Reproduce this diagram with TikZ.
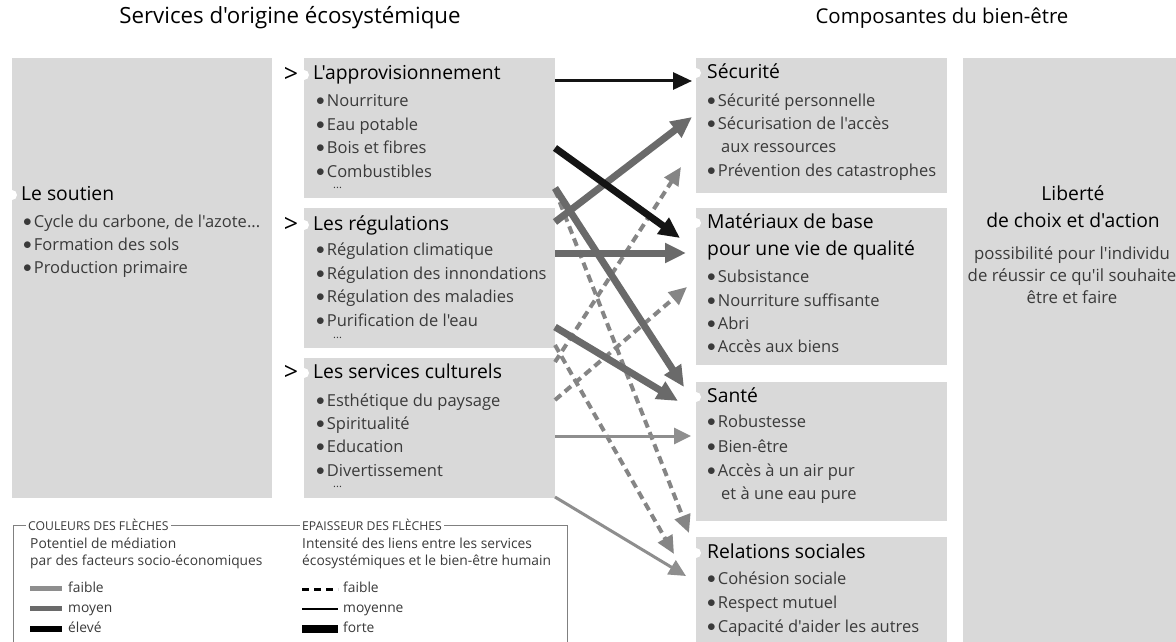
\documentclass[tikz,border=0pt]{standalone}
\usepackage{fontspec}
\setmainfont{Open Sans}[Ligatures=TeXOff]
\usetikzlibrary{arrows.meta}
\definecolor{boxgray}{HTML}{D9D9D9}
\definecolor{itemgray}{HTML}{3A3A3A}
\definecolor{midgray}{HTML}{6A6A6A}
\definecolor{lightgray2}{HTML}{8E8E8E}
\definecolor{dashgray}{HTML}{858585}
\definecolor{framegray}{HTML}{808080}
\newcommand{\bul}{\raisebox{1pt}{$\bullet$}\hspace{2pt}}
\begin{document}
\begin{tikzpicture}[x=1pt,y=-1pt,
  box/.style={fill=boxgray, draw=none, anchor=north west, inner sep=0pt},
  maintitle/.style={text=black, inner sep=0pt},
  head/.style={font=\fontsize{19.3}{22}\selectfont, text=black, anchor=west, inner sep=0pt, text height=14pt, text depth=4pt},
  item/.style={font=\fontsize{16.5}{19}\selectfont, text=itemgray, anchor=west, inner sep=0pt, text height=12pt, text depth=3.5pt},
  dots/.style={font=\fontsize{11}{12}\selectfont, text=itemgray, anchor=west, inner sep=0pt},
  gt/.style={font=\fontsize{25}{26}\selectfont, text=black, anchor=center, inner sep=0pt},
  notch/.style={fill=white},
  legh/.style={font=\fontsize{12.2}{14}\selectfont, text=itemgray, fill=white, anchor=west, inner xsep=2pt, inner ysep=1pt},
  legt/.style={font=\fontsize{13.8}{16}\selectfont, text=itemgray, anchor=west, inner sep=0pt, text height=10pt, text depth=3pt},
  thickarr/.style={line width=7pt, -{Triangle[length=21pt,width=19pt]}},
  thinarr/.style={line width=3pt, -{Triangle[length=17pt,width=16pt]}},
  dasharr/.style={line width=4pt, dash pattern=on 8pt off 5pt, dashgray, -{Triangle[length=18pt,width=16pt]}},
]
\useasboundingbox (0,0) rectangle (1176,642);
\fill[white] (0,0) rectangle (1176,642);

% main titles
\node[maintitle, font=\fontsize{22.3}{25}\selectfont] (tleft) at (290,18) {Services d'origine écosystémique};
\node[maintitle, font=\fontsize{20.4}{23}\selectfont] (tright) at (942,18) {Composantes du bien-être};

% boxes
\node[box, minimum width=260pt, minimum height=440pt] (soutien) at (12,58) {};
\node[box, minimum width=251pt, minimum height=140pt] (appro) at (304,58) {};
\node[box, minimum width=251pt, minimum height=140pt] (regul) at (304,208) {};
\node[box, minimum width=251pt, minimum height=140pt] (cult) at (304,358) {};
\node[box, minimum width=251pt, minimum height=135pt] (secu) at (696,58) {};
\node[box, minimum width=251pt, minimum height=157pt] (mat) at (696,208) {};
\node[box, minimum width=251pt, minimum height=139pt] (sante) at (696,382) {};
\node[box, minimum width=251pt, minimum height=105pt] (rel) at (696,537) {};
\node[box, minimum width=213pt, minimum height=584pt] (lib) at (963,58) {};

% notches
\fill[notch] (12,195) circle (5pt);
\fill[notch] (304,75) circle (5pt);
\fill[notch] (304,225) circle (5pt);
\fill[notch] (304,373) circle (5pt);
\fill[notch] (696,73) circle (5pt);
\fill[notch] (696,223) circle (5pt);
\fill[notch] (696,397) circle (5pt);
\fill[notch] (696,553) circle (5pt);

% Le soutien
\node[head] (hs) at (21,195) {Le soutien};
\node[item] (s1) at (23,223) {\bul Cycle du carbone, de l'azote...};
\node[item] (s2) at (23,246) {\bul Formation des sols};
\node[item] (s3) at (23,269) {\bul Production primaire};

% approvisionnement
\node[gt] (g1) at (291,75) {>};
\node[head] (ha) at (313,75) {L'approvisionnement};
\node[item] (a1) at (316,102) {\bul Nourriture};
\node[item] (a2) at (316,126) {\bul Eau potable};
\node[item] (a3) at (316,149) {\bul Bois et fibres};
\node[item] (a4) at (316,173) {\bul Combustibles};
\node[dots] (a5) at (333,188) {...};

% regulations
\node[gt] (g2) at (291,225) {>};
\node[head] (hr) at (313,225) {Les régulations};
\node[item] (r1) at (316,251) {\bul Régulation climatique};
\node[item] (r2) at (316,275) {\bul Régulation des innondations};
\node[item] (r3) at (316,298) {\bul Régulation des maladies};
\node[item] (r4) at (316,322) {\bul Purification de l'eau};
\node[dots] (r5) at (333,338) {...};

% culturels
\node[gt] (g3) at (291,373) {>};
\node[head] (hc) at (313,373) {Les services culturels};
\node[item] (c1) at (316,402) {\bul Esthétique du paysage};
\node[item] (c2) at (316,425) {\bul Spiritualité};
\node[item] (c3) at (316,448) {\bul Education};
\node[item] (c4) at (316,472) {\bul Divertissement};
\node[dots] (c5) at (333,487) {...};

% Securite
\node[head] (hse) at (707,73) {Sécurité};
\node[item] (se1) at (707,102) {\bul Sécurité personnelle};
\node[item] (se2) at (707,125) {\bul Sécurisation de l'accès};
\node[item] (se3) at (721,148) {aux ressources};
\node[item] (se4) at (707,172) {\bul Prévention des catastrophes};

% Materiaux
\node[head] (hm1) at (707,223) {Matériaux de base};
\node[head] (hm2) at (707,250) {pour une vie de qualité};
\node[item] (m1) at (707,278) {\bul Subsistance};
\node[item] (m2) at (707,302) {\bul Nourriture suffisante};
\node[item] (m3) at (707,325) {\bul Abri};
\node[item] (m4) at (707,348) {\bul Accès aux biens};

% Sante
\node[head] (hsa) at (707,397) {Santé};
\node[item] (sa1) at (707,423) {\bul Robustesse};
\node[item] (sa2) at (707,448) {\bul Bien-être};
\node[item] (sa3) at (707,472) {\bul Accès à un air pur};
\node[item] (sa4) at (721,495) {et à une eau pure};

% Relations sociales
\node[head] (hre) at (707,553) {Relations sociales};
\node[item] (re1) at (707,580) {\bul Cohésion sociale};
\node[item] (re2) at (707,604) {\bul Respect mutuel};
\node[item] (re3) at (707,628) {\bul Capacité d'aider les autres};

% Liberte
\node[head, anchor=center] (l1) at (1073,195) {Liberté};
\node[head, anchor=center] (l2) at (1073,222) {de choix et d'action};
\node[item, anchor=center, font=\fontsize{16.8}{19}\selectfont] (l3) at (1072,255) {possibilité pour l'individu};
\node[item, anchor=center, font=\fontsize{16.8}{19}\selectfont] (l4) at (1072,277) {de réussir ce qu'il souhaite};
\node[item, anchor=center, font=\fontsize{16.8}{19}\selectfont] (l5) at (1072,299) {être et faire};

% arrow end points
\coordinate (pa1) at (555,81);   \coordinate (qs1) at (692,81);
\coordinate (pa2) at (555,148);  \coordinate (qm1) at (680,238);
\coordinate (pr1) at (555,222);  \coordinate (qs2) at (692,117);
\coordinate (pa3) at (555,188);  \coordinate (qsa1) at (684,387);
\coordinate (pr2) at (555,327);  \coordinate (qsa2) at (678,401);
\coordinate (pr3) at (555,253);  \coordinate (qm2) at (686,253);
\coordinate (pc1) at (555,436);  \coordinate (qsa3) at (691,436);
\coordinate (pc2) at (555,497);  \coordinate (qre1) at (686,576);
\coordinate (pc3) at (555,362);  \coordinate (qs3) at (681,167);
\coordinate (pc4) at (555,400);  \coordinate (qm3) at (687,287);
\coordinate (pa4) at (555,190);  \coordinate (qre2) at (689,533);
\coordinate (pr4) at (555,345);  \coordinate (qre3) at (674,554);

% dashed arrows (below)
\draw[dasharr] (pc3) -- (qs3);
\draw[dasharr] (pc4) -- (qm3);
\draw[dasharr] (pa4) -- (qre2);
\draw[dasharr] (pr4) -- (qre3);
% light gray arrows
\draw[thinarr, lightgray2] (pc1) -- (qsa3);
\draw[thinarr, lightgray2] (pc2) -- (qre1);
% medium gray thick arrows
\draw[thickarr, midgray] (pr2) -- (qsa2);
\draw[thickarr, midgray] (pr3) -- (qm2);
\draw[thickarr, midgray] (pa3) -- (qsa1);
\draw[thickarr, midgray] (pr1) -- (qs2);
% black arrows
\draw[thickarr, black!92] (pa2) -- (qm1);
\draw[line width=3pt, black!92, -{Triangle[length=19pt,width=17pt]}] (pa1) -- (qs1);

% legend frame
\draw[framegray, line width=0.8pt] (13,642) -- (13,525) -- (567,525) -- (567,642);
\node[legh] (lh1) at (26,525) {COULEURS DES FLÈCHES};
\node[legh] (lh2) at (300,525) {EPAISSEUR DES FLÈCHES};
\node[legt] (lt1) at (30,545) {Potentiel de médiation};
\node[legt] (lt2) at (30,562) {par des facteurs socio-économiques};
\node[legt] (lt3) at (302,545) {Intensité des liens entre les services};
\node[legt] (lt4) at (302,562) {écosystémiques et le bien-être humain};

\fill[lightgray2] (30,586) rectangle (62,591);
\node[legt] (lf1) at (68,589) {faible};
\fill[midgray] (30,606) rectangle (62,611);
\node[legt] (lf2) at (68,609) {moyen};
\fill[black] (30,626) rectangle (62,632);
\node[legt] (lf3) at (68,629) {élevé};

\draw[black, line width=3pt, dash pattern=on 7pt off 5pt] (302,589) -- (338,589);
\node[legt] (le1) at (343,589) {faible};
\draw[black, line width=2pt] (302,609) -- (338,609);
\node[legt] (le2) at (343,609) {moyenne};
\fill[black] (302,625) rectangle (338,633);
\node[legt] (le3) at (343,629) {forte};
\end{tikzpicture}
\end{document}
